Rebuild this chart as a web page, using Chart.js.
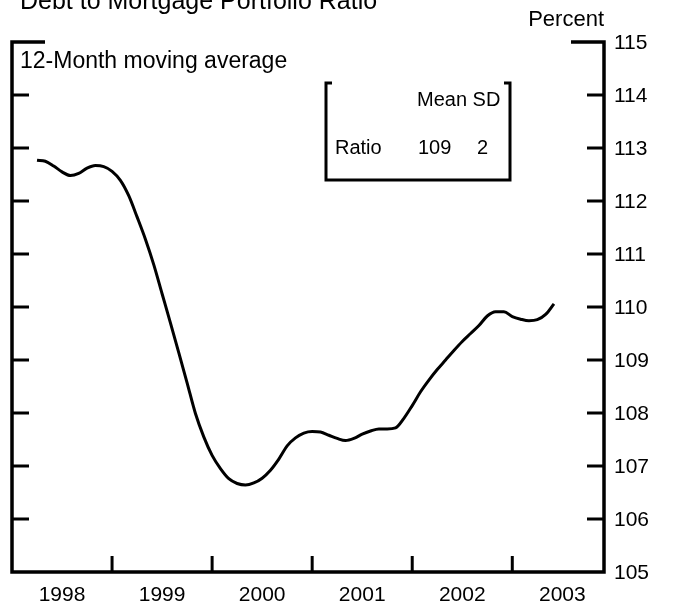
<!DOCTYPE html>
<html><head><meta charset="utf-8">
<script src="https://cdn.jsdelivr.net/npm/chart.js@4"></script>
<style>html,body{margin:0;padding:0;background:#fff;} #wrap{width:679px;height:608px;}</style>
</head><body><div id="wrap"><canvas id="c" width="679" height="608"></canvas></div>
<script>
const titleText = 'Debt to Mortgage Portfolio Ratio';
const unitLabel = 'Percent';
const noteText = '12-Month moving average';

const months = [
 '1998-04','1998-05','1998-06','1998-07','1998-08','1998-09','1998-10','1998-11','1998-12',
 '1999-01','1999-02','1999-03','1999-04','1999-05','1999-06','1999-07','1999-08','1999-09','1999-10','1999-11','1999-12',
 '2000-01','2000-02','2000-03','2000-04','2000-05','2000-06','2000-07','2000-08','2000-09','2000-10','2000-11','2000-12',
 '2001-01','2001-02','2001-03','2001-04','2001-05','2001-06','2001-07','2001-08','2001-09','2001-10','2001-11','2001-12',
 '2002-01','2002-02','2002-03','2002-04','2002-05','2002-06','2002-07','2002-08','2002-09','2002-10','2002-11','2002-12',
 '2003-01','2003-02','2003-03','2003-04','2003-05','2003-06'
];
const ratio = [
 112.77,112.75,112.66,112.55,112.48,112.52,112.62,112.67,112.65,
 112.56,112.39,112.10,111.70,111.28,110.80,110.25,109.70,109.14,108.57,107.99,107.55,
 107.20,106.95,106.76,106.67,106.64,106.68,106.77,106.92,107.13,107.38,107.53,107.62,
 107.65,107.64,107.58,107.52,107.48,107.52,107.60,107.66,107.70,107.70,107.72,107.90,
 108.14,108.40,108.62,108.82,109.00,109.18,109.35,109.50,109.65,109.83,109.91,109.91,
 109.82,109.77,109.74,109.76,109.86,110.06
];
const yearLabels = ['1998','1999','2000','2001','2002','2003'];
const yTickValues = [105,106,107,108,109,110,111,112,113,114,115];
const statHeaders = ['Mean','SD'];
const statRows = ['Ratio'];
const statMean = [109];
const statSD = [2];

const baseYear = 1998;
function monthIndex(s){ const p = s.split('-'); return (parseInt(p[0]) - baseYear) * 12 + (parseInt(p[1]) - 1); }
const points = months.map((m, i) => ({x: monthIndex(m), y: ratio[i]}));

const FONT = '"Liberation Sans", Arial, Helvetica, sans-serif';

const decor = {
  id: 'decor',
  afterDraw(chart) {
    const ctx = chart.ctx, a = chart.chartArea, xs = chart.scales.x, ys = chart.scales.y;
    const L = a.left, R = a.right, T = a.top, B = a.bottom;
    ctx.save();
    ctx.strokeStyle = '#000'; ctx.fillStyle = '#000';
    ctx.lineWidth = 3.5; ctx.lineJoin = 'miter'; ctx.lineCap = 'butt';
    // frame
    ctx.beginPath();
    ctx.moveTo(L + 33, T); ctx.lineTo(L, T); ctx.lineTo(L, B); ctx.lineTo(R, B); ctx.lineTo(R, T); ctx.lineTo(R - 33, T);
    ctx.stroke();
    ctx.lineWidth = 3;
    // y ticks
    yTickValues.forEach(v => {
      if (v === ys.min || v === ys.max) return;
      const y = ys.getPixelForValue(v);
      ctx.beginPath(); ctx.moveTo(L, y); ctx.lineTo(L + 17, y); ctx.moveTo(R - 17, y); ctx.lineTo(R, y); ctx.stroke();
    });
    // x ticks at year boundaries
    for (let k = 1; k < yearLabels.length; k++) {
      const x = xs.getPixelForValue(k * 12);
      ctx.beginPath(); ctx.moveTo(x, B); ctx.lineTo(x, B - 16); ctx.stroke();
    }
    // y labels
    ctx.font = '21px ' + FONT; ctx.textAlign = 'left'; ctx.textBaseline = 'middle';
    yTickValues.forEach(v => ctx.fillText(String(v), R + 10, ys.getPixelForValue(v) + 1));
    // year labels
    ctx.textAlign = 'center';
    yearLabels.forEach((lab, k) => ctx.fillText(lab, xs.getPixelForValue(k * 12 + 6), B + 23));
    // title
    ctx.textAlign = 'left'; ctx.textBaseline = 'alphabetic';
    ctx.font = '25px ' + FONT; ctx.fillText(titleText, 20, 9);
    ctx.font = '22px ' + FONT; ctx.textAlign = 'right'; ctx.fillText(unitLabel, R, 26);
    ctx.textAlign = 'left'; ctx.textBaseline = 'middle';
    ctx.font = '23px ' + FONT; ctx.fillText(noteText, 20, 62);
    // inset box
    const bx0 = 326, bx1 = 510, by0 = 83, by1 = 180;
    ctx.lineWidth = 3;
    ctx.beginPath();
    ctx.moveTo(bx0 + 6, by0); ctx.lineTo(bx0, by0); ctx.lineTo(bx0, by1); ctx.lineTo(bx1, by1); ctx.lineTo(bx1, by0); ctx.lineTo(bx1 - 6, by0);
    ctx.stroke();
    ctx.font = '20px ' + FONT;
    ctx.fillText(statHeaders.join(' '), 417, 100);
    statRows.forEach((r, i) => {
      const y = 148 + i * 30;
      ctx.fillText(r, 335, y);
      ctx.fillText(String(statMean[i]), 418, y);
      ctx.fillText(String(statSD[i]), 477, y);
    });
    ctx.restore();
  }
};

new Chart(document.getElementById('c'), {
  type: 'line',
  data: { datasets: [{ data: points, borderColor: '#000', borderWidth: 3, pointRadius: 0, cubicInterpolationMode: 'monotone', fill: false }] },
  options: {
    responsive: false, animation: false, devicePixelRatio: 1,
    layout: { padding: { left: 12, right: 75, top: 42, bottom: 36 } },
    plugins: { legend: { display: false }, tooltip: { enabled: false }, title: { display: false } },
    scales: {
      x: { type: 'linear', min: 0, max: 71, display: false },
      y: { type: 'linear', min: 105, max: 115, display: false }
    }
  },
  plugins: [decor]
});
</script>
</body></html>
